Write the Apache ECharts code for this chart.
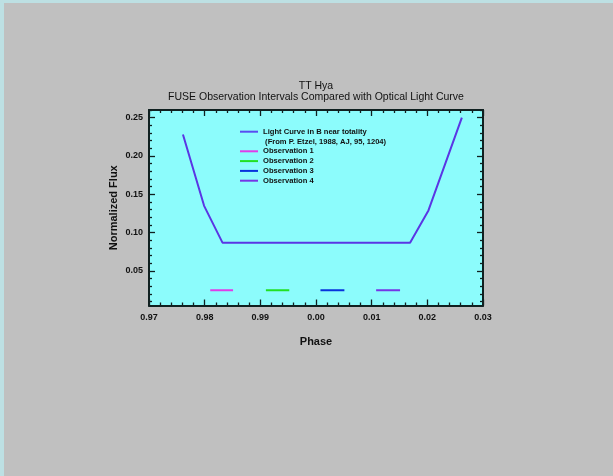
<!DOCTYPE html>
<html>
<head>
<meta charset="utf-8">
<script src="https://cdn.jsdelivr.net/npm/echarts@6/dist/echarts.min.js"></script>
<style>
html,body{margin:0;padding:0;width:613px;height:476px;overflow:hidden;background:#c0c0c0;}
#bl{position:absolute;left:0;top:0;width:4px;height:476px;background:#bde0e3;}
#bt{position:absolute;left:0;top:0;width:613px;height:3px;background:#bde0e3;}
#chart{position:absolute;left:0;top:0;width:613px;height:476px;}
</style>
</head>
<body>
<div id="bl"></div><div id="bt"></div>
<div id="chart"></div>
<script>
// Light curve (phase, normalized flux)
const curvePhase = [0.9761, 0.9799, 0.9832, 0.0169, 0.0202, 0.0262];
const curveFlux  = [0.228, 0.135, 0.087, 0.087, 0.129, 0.250];
// Observation intervals (start/end phase) at constant flux
const obsNames = ['Observation 1', 'Observation 2', 'Observation 3', 'Observation 4'];
const obsStart = [0.981, 0.991, 0.0008, 0.0108];
const obsEnd   = [0.9851, 0.9952, 0.0051, 0.0151];
const obsFlux  = [0.025, 0.025, 0.025, 0.025];
const obsColors = ['#e03ce8', '#22e022', '#0833dc', '#7636e6'];
// Tick values
const yMajorTicks = [0.05, 0.10, 0.15, 0.20, 0.25];
const yMinorTicks = [0.01,0.02,0.03,0.04,0.06,0.07,0.08,0.09,0.11,0.12,0.13,0.14,0.16,0.17,0.18,0.19,0.21,0.22,0.23,0.24,0.26];

const curveName = 'Light Curve in B near totality';
const noteName = ' (From P. Etzel, 1988, AJ, 95, 1204)';
const curveColor = '#5a36e4';
const axisColor = '#102020';
const font = "'Liberation Sans', Arial, sans-serif";

function off(p){ return p > 0.5 ? p - 1 : p; }
function fmtPhase(v){ const p = v < 0 ? 1 + v : v; return p.toFixed(2); }

const series = [{
  name: curveName, type: 'line', showSymbol: false, symbol: 'none',
  data: curvePhase.map((p, i) => [off(p), curveFlux[i]]),
  lineStyle: {width: 2, color: curveColor}, itemStyle: {color: curveColor},
  xAxisIndex: 0, yAxisIndex: 0, z: 3
}, {
  name: noteName, type: 'line', data: [], itemStyle: {color: 'rgba(0,0,0,0)'}, lineStyle:{color:'rgba(0,0,0,0)'}
}];
obsNames.forEach((n, i) => {
  series.push({
    name: n, type: 'line', showSymbol: false, symbol: 'none',
    data: [[off(obsStart[i]), obsFlux[i]], [off(obsEnd[i]), obsFlux[i]]],
    lineStyle: {width: 2, color: obsColors[i]}, itemStyle: {color: obsColors[i]},
    xAxisIndex: 0, yAxisIndex: 0, z: 3
  });
});

const baseX = {
  type: 'value', min: -0.03, max: 0.03, interval: 0.01,
  axisLine: {show: true, onZero: false, lineStyle: {color: axisColor, width: 2}},
  axisTick: {show: true, inside: true, length: 6, lineStyle: {color: axisColor, width: 1.3}},
  minorTick: {show: true, splitNumber: 5, length: 3, lineStyle: {color: axisColor, width: 1.3}},
  splitLine: {show: false}, minorSplitLine: {show: false}
};
const baseY = {
  type: 'value', min: 0.005, max: 0.26,
  axisLine: {show: true, onZero: false, lineStyle: {color: axisColor, width: 2}},
  splitLine: {show: false}
};

const option = {
  animation: false,
  textStyle: {fontFamily: font},
  grid: {left: 149, right: 130, top: 110, bottom: 170.5, show: true, backgroundColor: '#8cfcfc', borderWidth: 0, containLabel: false},
  legend: {
    show: true, orient: 'vertical', left: 240, top: 126.8, padding: 0, itemGap: 0,
    itemWidth: 18, itemHeight: 2, icon: 'rect', selectedMode: false,
    textStyle: {fontSize: 7.6, fontWeight: 'bold', color: '#111', lineHeight: 9.8, fontFamily: font},
    data: [
      {name: curveName, itemStyle: {color: '#5a4cf0'}},
      {name: noteName, itemStyle: {color: 'rgba(0,0,0,0)'}},
      {name: obsNames[0]}, {name: obsNames[1]}, {name: obsNames[2]}, {name: obsNames[3]}
    ]
  },
  xAxis: [
    Object.assign({}, baseX, {
      position: 'bottom', name: 'Phase', nameLocation: 'middle', nameGap: 31, nameMoveOverlap: false,
      nameTextStyle: {fontSize: 11, fontWeight: 'bold', color: '#111', fontFamily: font},
      axisLabel: {show: true, margin: 8, fontSize: 9, fontWeight: 'bold', color: '#111', fontFamily: font, formatter: fmtPhase, showMinLabel: true, showMaxLabel: true}
    }),
    Object.assign({}, baseX, {
      position: 'top', axisLabel: {show: false},
      name: 'TT Hya\nFUSE Observation Intervals Compared with Optical Light Curve',
      nameLocation: 'middle', nameGap: 7, nameMoveOverlap: false,
      nameTextStyle: {fontSize: 10.5, lineHeight: 11.5, color: '#111', fontFamily: font, align: 'center'}
    })
  ],
  yAxis: [
    Object.assign({}, baseY, {
      position: 'left', name: 'Normalized Flux', nameLocation: 'middle', nameGap: 30, nameMoveOverlap: false,
      nameTextStyle: {fontSize: 11, fontWeight: 'bold', color: '#111', fontFamily: font},
      axisTick: {show: true, inside: true, length: 6, customValues: yMajorTicks, lineStyle: {color: axisColor, width: 1.3}},
      axisLabel: {show: true, margin: 6, fontSize: 9, fontWeight: 'bold', color: '#111', fontFamily: font, customValues: yMajorTicks, formatter: v => v.toFixed(2)}
    }),
    Object.assign({}, baseY, {
      position: 'left',
      axisTick: {show: true, inside: true, length: 3, customValues: yMinorTicks, lineStyle: {color: axisColor, width: 1.3}},
      axisLabel: {show: false}
    }),
    Object.assign({}, baseY, {
      position: 'right',
      axisTick: {show: true, inside: true, length: 6, customValues: yMajorTicks, lineStyle: {color: axisColor, width: 1.3}},
      axisLabel: {show: false}
    }),
    Object.assign({}, baseY, {
      position: 'right',
      axisTick: {show: true, inside: true, length: 3, customValues: yMinorTicks, lineStyle: {color: axisColor, width: 1.3}},
      axisLabel: {show: false}
    })
  ],
  series: series
};

const chart = echarts.init(document.getElementById('chart'), null, {renderer: 'canvas'});
chart.setOption(option);
</script>
</body>
</html>
